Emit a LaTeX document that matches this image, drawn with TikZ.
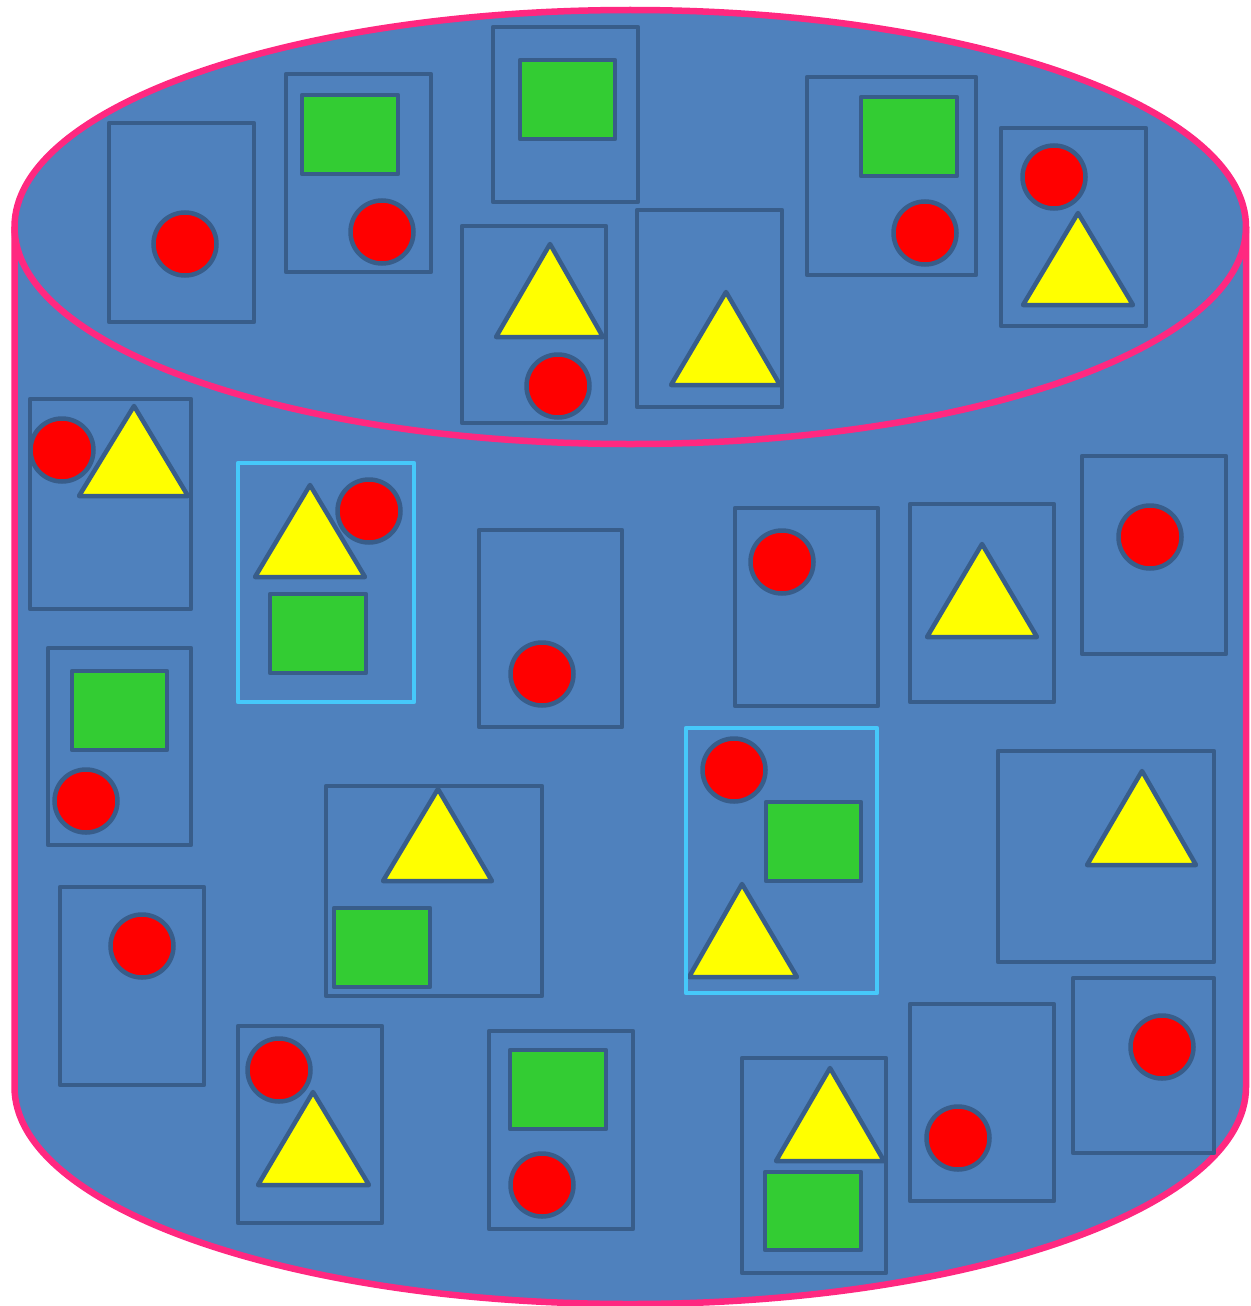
\documentclass[tikz,border=0pt]{standalone}
\definecolor{cylblue}{RGB}{79,129,189}
\definecolor{dk}{RGB}{56,93,138}
\definecolor{pinkline}{RGB}{255,40,128}
\definecolor{grn}{RGB}{51,204,51}
\definecolor{cyanline}{RGB}{70,200,250}
\definecolor{yel}{RGB}{255,255,0}
\definecolor{rd}{RGB}{255,0,0}
\begin{document}
\begin{tikzpicture}[x=1pt,y=-1pt,
  boxc/.style={draw=dk,line width=4.5pt,line join=round},
  hibox/.style={draw=cyanline,line width=4.5pt,line join=round},
  sq/.style={draw=dk,fill=grn,line width=4.5pt,line join=round},
  dot/.style={draw=dk,fill=rd,line width=4.5pt},
  tri/.style={draw=dk,fill=yel,line width=4.5pt,line join=round},
  rim/.style={draw=pinkline,line width=6.5pt}]
\useasboundingbox (0,0) rectangle (1250,1306);
% cylinder body
\fill[cylblue] (14.5,227) -- (14.5,1087) arc[start angle=180,end angle=0,x radius=615.75,y radius=217] -- (1246,227) -- cycle;
\fill[cylblue] (630.25,227) ellipse[x radius=615.75,y radius=217];
\draw[rim] (14.5,227) -- (14.5,1087) arc[start angle=180,end angle=0,x radius=615.75,y radius=217] -- (1246,227);
\draw[rim] (630.25,227) ellipse[x radius=615.75,y radius=217];
% --- top face ---
% 1
\draw[boxc] (109,123) rectangle (254,322);
\draw[dot] (185,244) circle[radius=31.5];
% 2
\draw[boxc] (286,74) rectangle (431,272);
\draw[sq] (302,95) rectangle (398,174);
\draw[dot] (382,232) circle[radius=31.5];
% 3
\draw[boxc] (493,27) rectangle (638,202);
\draw[sq] (520,60) rectangle (615,139);
% 4
\draw[boxc] (462,226) rectangle (606,423);
\draw[tri] (550,244) -- (603,337) -- (496,337) -- cycle;
\draw[dot] (558,386) circle[radius=31.5];
% 5
\draw[boxc] (637,210) rectangle (782,407);
\draw[tri] (726,292) -- (780,385) -- (671,385) -- cycle;
% 6
\draw[boxc] (807,77) rectangle (976,275);
\draw[sq] (861,97) rectangle (957,176);
\draw[dot] (925,233) circle[radius=31.5];
% 7
\draw[boxc] (1001,128) rectangle (1146,326);
\draw[dot] (1054,177) circle[radius=31.5];
\draw[tri] (1078,213) -- (1133,305) -- (1023,305) -- cycle;
% --- side ---
% 8
\draw[boxc] (30,399) rectangle (191,609);
\draw[dot] (62,450) circle[radius=31.5];
\draw[tri] (134,406) -- (188,496) -- (79,496) -- cycle;
% 9
\draw[hibox] (238,463) rectangle (414,702);
\draw[tri] (310,485) -- (365,577) -- (255,577) -- cycle;
\draw[dot] (369,511) circle[radius=31.5];
\draw[sq] (270,594) rectangle (366,673);
% 10
\draw[boxc] (479,530) rectangle (622,727);
\draw[dot] (542,674) circle[radius=31.5];
% 11
\draw[boxc] (735,508) rectangle (878,706);
\draw[dot] (782,562) circle[radius=31.5];
% 12
\draw[boxc] (910,504) rectangle (1054,702);
\draw[tri] (982,544) -- (1037,637) -- (927,637) -- cycle;
% 13
\draw[boxc] (1082,456) rectangle (1226,654);
\draw[dot] (1150,537) circle[radius=31.5];
% 14
\draw[boxc] (48,648) rectangle (191,845);
\draw[sq] (72,671) rectangle (167,750);
\draw[dot] (86,801) circle[radius=31.5];
% 15
\draw[boxc] (326,786) rectangle (542,996);
\draw[tri] (438,789) -- (492,881) -- (383,881) -- cycle;
\draw[sq] (334,908) rectangle (430,987);
% 16
\draw[dot] (734,770) circle[radius=31.5];
\draw[sq] (766,802) rectangle (861,881);
\draw[tri] (742,884) -- (797,977) -- (689,977) -- cycle;
\draw[hibox] (686,728) rectangle (877,993);
% 17
\draw[boxc] (998,751) rectangle (1214,962);
\draw[tri] (1142,771) -- (1196,865) -- (1087,865) -- cycle;
% 18
\draw[boxc] (60,887) rectangle (204,1085);
\draw[dot] (142,946) circle[radius=31.5];
% 19
\draw[boxc] (238,1026) rectangle (382,1223);
\draw[dot] (279,1070) circle[radius=31.5];
\draw[tri] (313,1092) -- (369,1185) -- (258,1185) -- cycle;
% 20
\draw[boxc] (489,1031) rectangle (633,1229);
\draw[sq] (510,1050) rectangle (606,1129);
\draw[dot] (542,1185) circle[radius=31.5];
% 21
\draw[boxc] (742,1058) rectangle (886,1273);
\draw[tri] (830,1068) -- (884,1161) -- (776,1161) -- cycle;
\draw[sq] (765,1172) rectangle (861,1250);
% 22
\draw[boxc] (910,1004) rectangle (1054,1201);
\draw[dot] (958,1138) circle[radius=31.5];
% 23
\draw[boxc] (1073,978) rectangle (1214,1153);
\draw[dot] (1162,1047) circle[radius=31.5];
\end{tikzpicture}
\end{document}
